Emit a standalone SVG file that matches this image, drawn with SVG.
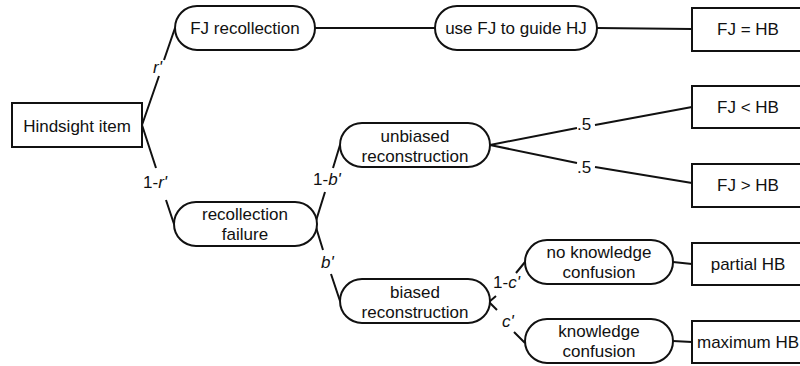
<svg xmlns="http://www.w3.org/2000/svg" width="800" height="366" viewBox="0 0 800 366">
<style>
.n{fill:#fff;stroke:#111;stroke-width:2}
.t{font-family:"Liberation Sans",Arial,sans-serif;font-size:17px;fill:#111;text-anchor:middle}
.l{font-family:"Liberation Sans",Arial,sans-serif;font-size:17px;fill:#111}
.c{stroke:#111;stroke-width:2;fill:none}
</style>
<rect width="800" height="366" fill="#fff"/>
<g id="connectors">
<path class="c" d="M142,125L159,76M164,60L175,28"/>
<path class="c" d="M142,125L156,168M166,200L174,224"/>
<path class="c" d="M315,28H435M597,28L692,29"/>
<path class="c" d="M315,224L325,192M333,168L340,145"/>
<path class="c" d="M315,224L323,250M331,274L340,301"/>
<path class="c" d="M490,145L577,128M595,125L692,107"/>
<path class="c" d="M490,145L577,163M595,167L692,183"/>
<path class="c" d="M489,302L496,296M516,273L525,262"/>
<path class="c" d="M489,302L497,310M514,332L525,343"/>
<path class="c" d="M673,262L692,264M673,341L692,342"/>
<text class="l" x="153" y="73" font-style="italic">r'</text>
<text class="l" x="143" y="188">1-<tspan font-style="italic">r'</tspan></text>
<text class="l" x="313" y="185">1-<tspan font-style="italic">b'</tspan></text>
<text class="l" x="321" y="268" font-style="italic">b'</text>
<text class="l" x="577" y="130">.5</text>
<text class="l" x="577" y="173">.5</text>
<text class="l" x="493" y="288">1-<tspan font-style="italic">c'</tspan></text>
<text class="l" x="502" y="327" font-style="italic">c'</text>
</g>
<g id="hindsight"><rect class="n" x="12" y="103" width="130" height="44"/><text class="t" x="77" y="132">Hindsight item</text></g>
<g id="fjrec"><rect class="n" x="175" y="6" width="140" height="44" rx="22"/><text class="t" x="245" y="34">FJ recollection</text></g>
<g id="usefj"><rect class="n" x="435" y="6" width="162" height="44" rx="22"/><text class="t" x="516" y="34">use FJ to guide HJ</text></g>
<g id="recfail"><rect class="n" x="174" y="202" width="143" height="44" rx="22"/><text class="t" x="245" y="220">recollection</text><text class="t" x="245" y="240">failure</text></g>
<g id="unbiased"><rect class="n" x="340" y="123" width="150" height="44" rx="22"/><text class="t" x="415" y="142">unbiased</text><text class="t" x="415" y="162">reconstruction</text></g>
<g id="biased"><rect class="n" x="340" y="279" width="150" height="44" rx="22"/><text class="t" x="415" y="298">biased</text><text class="t" x="415" y="318">reconstruction</text></g>
<g id="noknow"><rect class="n" x="525" y="240" width="148" height="44" rx="22"/><text class="t" x="599" y="258">no knowledge</text><text class="t" x="599" y="278">confusion</text></g>
<g id="know"><rect class="n" x="525" y="319" width="148" height="44" rx="22"/><text class="t" x="599" y="337">knowledge</text><text class="t" x="599" y="357">confusion</text></g>
<g id="fjeq"><rect class="n" x="692" y="8" width="113" height="43"/><text class="t" x="748" y="35">FJ = HB</text></g>
<g id="fjlt"><rect class="n" x="692" y="86" width="113" height="42"/><text class="t" x="748" y="113">FJ &lt; HB</text></g>
<g id="fjgt"><rect class="n" x="692" y="164" width="113" height="43"/><text class="t" x="748" y="191">FJ &gt; HB</text></g>
<g id="partial"><rect class="n" x="692" y="243" width="113" height="42"/><text class="t" x="748" y="270">partial HB</text></g>
<g id="maximum"><rect class="n" x="692" y="321" width="113" height="42"/><text class="t" x="748" y="348">maximum HB</text></g>
</svg>
